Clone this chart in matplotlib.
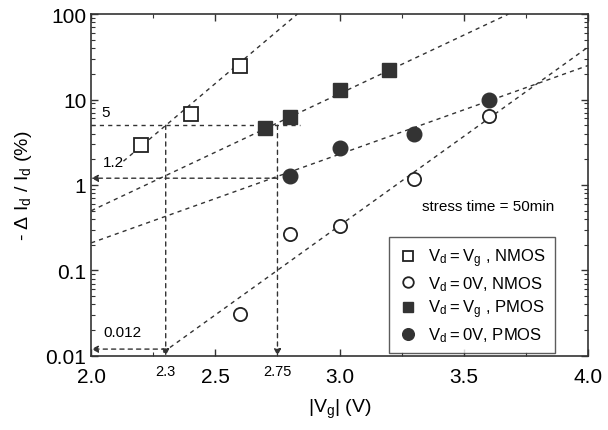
import matplotlib
matplotlib.use("Agg")
import matplotlib.pyplot as plt
import numpy as np
from matplotlib.ticker import MultipleLocator, LogLocator, NullFormatter

plt.rcParams['font.family'] = ['Liberation Sans', 'DejaVu Sans']
plt.rcParams['mathtext.fontset'] = 'custom'
plt.rcParams['mathtext.rm'] = 'Liberation Sans'

# measured points, |Vg| (V) vs -dId/Id (%)
vg_n_vdvg = [2.2, 2.4, 2.6]
di_n_vdvg = [2.9, 6.7, 24.5]
vg_n_vd0 = [2.6, 2.8, 3.0, 3.3, 3.6]
di_n_vd0 = [0.031, 0.265, 0.335, 1.16, 6.5]
vg_p_vdvg = [2.7, 2.8, 3.0, 3.2]
di_p_vdvg = [4.7, 6.2, 13.0, 22.0]
vg_p_vd0 = [2.8, 3.0, 3.3, 3.6]
di_p_vd0 = [1.26, 2.7, 4.0, 10.0]

# dashed fit lines: end points (x, y)
fit_n_vdvg = ([2.13, 2.83], [1.9, 100])
fit_n_vd0 = ([2.29, 4.0], [0.011, 41])
fit_p_vdvg = ([2.0, 3.68], [0.5, 100])
fit_p_vd0 = ([2.0, 4.0], [0.21, 25])

# read-off guides
vg_marks = [2.3, 2.75]
di_marks = [5, 1.2, 0.012]

fig = plt.figure(figsize=(6.08, 4.31), dpi=100)
ax = fig.add_axes([0.150, 0.172, 0.817, 0.793])

dash = (0, (3, 3))
for xs, ys in [fit_n_vdvg, fit_n_vd0, fit_p_vdvg, fit_p_vd0]:
    ax.plot(xs, ys, color='#333333', lw=1.0, linestyle=dash, zorder=1)

# horizontal guides
ax.plot([2.0, 2.84], [di_marks[0]] * 2, color='#333333', lw=1.0, linestyle=dash)
for x0, y0 in [(vg_marks[1], di_marks[1]), (vg_marks[0], di_marks[2])]:
    ax.annotate('', xy=(2.0, y0), xytext=(x0, y0),
                arrowprops=dict(arrowstyle='-|>', color='#333333', lw=1.0,
                                linestyle=(0, (3, 3)), mutation_scale=10,
                                shrinkA=0, shrinkB=0))
# vertical guides
for x0 in vg_marks:
    ax.annotate('', xy=(x0, 0.01), xytext=(x0, di_marks[0]),
                arrowprops=dict(arrowstyle='-|>', color='#333333', lw=1.0,
                                linestyle=(0, (3, 3)), mutation_scale=10,
                                shrinkA=0, shrinkB=0))

ms = 9.5
ax.plot(vg_n_vdvg, di_n_vdvg, 's', ms=ms, mfc='white', mec='#222222', mew=1.3,
        ls='none', label=r'$\mathregular{V_d = V_g}$ , NMOS', zorder=3)
ax.plot(vg_n_vd0, di_n_vd0, 'o', ms=ms, mfc='white', mec='#222222', mew=1.3,
        ls='none', label=r'$\mathregular{V_d = 0V}$, NMOS', zorder=3)
ax.plot(vg_p_vdvg, di_p_vdvg, 's', ms=ms, mfc='#333333', mec='#333333',
        ls='none', label=r'$\mathregular{V_d = V_g}$ , PMOS', zorder=3)
ax.plot(vg_p_vd0, di_p_vd0, 'o', ms=ms + 1, mfc='#333333', mec='#333333',
        ls='none', label=r'$\mathregular{V_d = 0V}$, PMOS', zorder=3)

ax.set_yscale('log')
ax.set_xlim(2.0, 4.0)
ax.set_ylim(0.01, 100)
ax.xaxis.set_minor_locator(MultipleLocator(0.25))
ax.yaxis.set_minor_locator(LogLocator(base=10, subs=np.arange(2, 10)))
ax.yaxis.set_minor_formatter(NullFormatter())
ax.set_xticks([2.0, 2.5, 3.0, 3.5, 4.0])
ax.set_xticklabels(['2.0', '2.5', '3.0', '3.5', '4.0'])
ax.set_yticks([0.01, 0.1, 1, 10, 100])
ax.set_yticklabels(['0.01', '0.1', '1', '10', '100'])
ax.tick_params(which='both', direction='in', top=True, right=True,
               labelsize=15, color='#333333')
ax.tick_params(axis='x', which='major', pad=8)
ax.tick_params(which='major', length=5, width=1)
ax.tick_params(which='minor', length=3, width=0.8)
for s in ax.spines.values():
    s.set_linewidth(1.2)
    s.set_color('#333333')

ax.set_xlabel(r'|$\mathregular{V_g}$| (V)', fontsize=14, labelpad=8)
ax.set_ylabel(r'- Δ $\mathregular{I_d}$ / $\mathregular{I_d}$ (%)', fontsize=14, labelpad=8)

ax.text(2.04, 7.2, '5', fontsize=11, ha='left', va='center')
ax.text(2.045, 1.85, '1.2', fontsize=11, ha='left', va='center')
ax.text(2.05, 0.019, '0.012', fontsize=11, ha='left', va='center')
tr = ax.get_xaxis_transform()
for x0, lbl in zip(vg_marks, ['2.3', '2.75']):
    ax.text(x0, -0.044, lbl, transform=tr, fontsize=10.5, ha='center', va='center')

ax.text(0.666, 0.439, 'stress time = 50min', transform=ax.transAxes,
        fontsize=11, ha='left', va='center')

leg = ax.legend(loc='upper right', bbox_to_anchor=(0.95, 0.371), fontsize=12,
                frameon=True, fancybox=False, edgecolor='#333333',
                handletextpad=0.6, labelspacing=0.3, borderpad=0.55,
                handlelength=1.2, markerscale=0.8)
leg.get_frame().set_linewidth(1.0)

fig.savefig('out.png', dpi=100)
